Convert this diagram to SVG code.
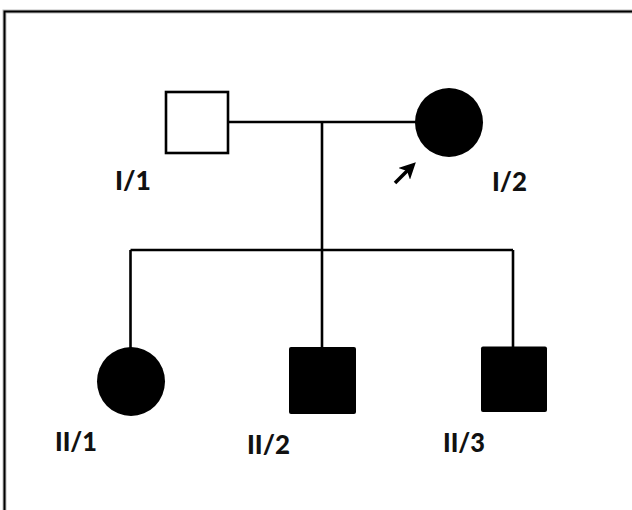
<svg xmlns="http://www.w3.org/2000/svg" width="632" height="510" viewBox="0 0 632 510">
<style>
.lbl{font-family:Lato,"Liberation Sans",Arial,sans-serif;font-weight:900;font-size:26px;fill:#111}
.ln{stroke:#000;fill:none;stroke-width:2.6}
.aff{fill:#000}
.unaff{fill:#fff;stroke:#000;stroke-width:2.6}
</style>
<defs>
<marker id="ah" viewBox="0 0 10 10" refX="5" refY="5" markerWidth="4.6" markerHeight="4.6" orient="auto">
<path d="M0,0 L10,5 L0,10 L2.5,5 z" fill="#000"/>
</marker>
</defs>
<rect width="632" height="510" fill="#fff"/>
<path d="M4.5,510 V11.5 H632" stroke="#bbb" stroke-width="4" fill="none"/>
<path d="M4.5,510 V11.5 H632" stroke="#000" stroke-width="2" fill="none"/>
<g id="connectors">
<line class="ln" x1="228" y1="122" x2="416" y2="122"/>
<line class="ln" x1="322" y1="122" x2="322" y2="250"/>
<line class="ln" x1="130.5" y1="250" x2="513" y2="250" stroke-width="3.2"/>
<line class="ln" x1="130.5" y1="250" x2="130.5" y2="348"/>
<line class="ln" x1="322" y1="250" x2="322" y2="348"/>
<line class="ln" x1="513" y1="250" x2="513" y2="347"/>
<line x1="395" y1="183" x2="410" y2="168" stroke="#000" stroke-width="3.6" marker-end="url(#ah)"/>
</g>
<g id="I1">
<rect class="unaff" x="166" y="92" width="62" height="61"/>
<text class="lbl" x="115" y="190" textLength="36" lengthAdjust="spacingAndGlyphs">I/1</text>
</g>
<g id="I2">
<ellipse class="aff" cx="449" cy="122.5" rx="34" ry="34.5"/>
<text class="lbl" x="492" y="191" textLength="35" lengthAdjust="spacingAndGlyphs">I/2</text>
</g>
<g id="II1">
<ellipse class="aff" cx="131" cy="381.5" rx="34" ry="34.5"/>
<text class="lbl" x="55" y="451" textLength="42" lengthAdjust="spacingAndGlyphs">II/1</text>
</g>
<g id="II2">
<rect class="aff" x="289" y="347" width="67" height="67" rx="2"/>
<text class="lbl" x="247" y="454" textLength="43" lengthAdjust="spacingAndGlyphs">II/2</text>
</g>
<g id="II3">
<rect class="aff" x="481" y="346.5" width="66" height="65.5" rx="2"/>
<text class="lbl" x="443" y="452" textLength="42" lengthAdjust="spacingAndGlyphs">II/3</text>
</g>
</svg>
